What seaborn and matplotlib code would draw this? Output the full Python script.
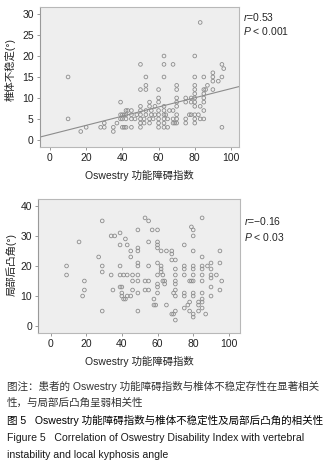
import numpy as np
import pandas as pd
import matplotlib
matplotlib.use('Agg')
import matplotlib.pyplot as plt
import seaborn as sns

sns.set_style("ticks")
plt.rcParams['font.family'] = ['Liberation Sans', 'Noto Sans CJK SC', 'DejaVu Sans']
plt.rcParams['axes.unicode_minus'] = False
plt.rcParams['mathtext.fontset'] = 'custom'
plt.rcParams['mathtext.it'] = 'Liberation Sans:italic'

# top panel: Oswestry index vs vertebral instability, grouped by instability value
inst_rows = {
	28: [83],
	20: [63, 80],
	18: [50, 63, 68, 95],
	17: [96],
	16: [90],
	15: [10, 53, 63, 80, 85, 90, 95],
	14: [90, 93],
	13: [53, 70, 80, 87],
	12: [50, 53, 60, 70, 80, 85, 86, 90],
	11: [80, 85],
	10: [60, 70, 75, 78, 80, 85],
	9: [39, 55, 60, 70, 75, 78, 80, 85],
	8: [50, 55, 58, 63, 70, 80, 83],
	7: [42, 43, 45, 50, 53, 56, 60, 63, 66, 68, 85],
	6: [39, 40, 41, 42, 45, 48, 50, 53, 56, 58, 60, 63, 64, 70, 77, 78, 80, 82],
	5: [10, 39, 40, 42, 45, 47, 50, 52, 55, 57, 60, 63, 65, 68, 70, 75, 80, 83, 85],
	4: [30, 37, 50, 52, 55, 60, 63, 68, 69, 70, 75, 80],
	3: [20, 28, 30, 35, 40, 41, 42, 45, 50, 60, 63, 65, 95],
	2: [17, 35],
}

# bottom panel: Oswestry index vs local kyphosis angle
kyph_rows = {
	36: [53, 85],
	35: [29, 55],
	33: [79],
	32: [49, 57, 60, 80],
	31: [39],
	30: [34, 36, 80],
	29: [42],
	28: [16, 55, 60],
	27: [39, 43, 60, 75],
	26: [49, 60],
	25: [45, 49, 62, 65, 68, 80, 95],
	24: [68],
	23: [27, 45, 85],
	22: [68, 70],
	21: [49, 60, 90, 95],
	20: [9, 29, 39, 49, 55, 62, 75, 80, 85, 88],
	19: [62, 70, 75, 80, 85, 90],
	18: [29, 62],
	17: [9, 34, 39, 41, 43, 46, 49, 60, 63, 70, 75, 80, 85, 90, 93],
	16: [90],
	15: [19, 46, 49, 53, 55, 63, 64, 70, 78, 79, 80, 85, 96],
	14: [60, 64, 70],
	13: [39, 40, 60, 90],
	12: [19, 35, 46, 53, 55, 70, 95],
	11: [40, 49, 60, 69, 75, 80, 85],
	10: [18, 40, 43, 45, 70, 75, 80, 90],
	9: [41, 42, 58, 85],
	8: [78, 83, 85],
	7: [58, 59, 65, 77, 83],
	6: [75, 85],
	5: [29, 49, 70, 78, 83],
	4: [68, 69, 80, 87],
	3: [80],
	2: [70],
}

def to_frame(rows, name):
	xs, ys = [], []
	for yv, xl in rows.items():
		xs += xl
		ys += [yv] * len(xl)
	return pd.DataFrame({'odi': xs, name: ys})

top = to_frame(inst_rows, 'inst')
bot = to_frame(kyph_rows, 'kyph')

bg = '#eeeeee'
pt = '#8c8c8c'
fs = 7.5

fig = plt.figure(figsize=(3.28, 4.63), dpi=100)
ax1 = fig.add_axes([0.122, 0.6825, 0.607, 0.3025])
ax2 = fig.add_axes([0.117, 0.2808, 0.615, 0.2888])

def style(ax, xlim, ylim, yticks):
	ax.set_facecolor(bg)
	ax.set_xlim(*xlim)
	ax.set_ylim(*ylim)
	ax.set_xticks([0, 20, 40, 60, 80, 100])
	ax.set_yticks(yticks)
	for s in ax.spines.values():
		s.set_color('#b8b8b8')
		s.set_linewidth(0.8)
	ax.spines['left'].set_color('#999999')
	ax.tick_params(length=2.5, width=0.6, color='#888888', labelsize=fs, pad=2, labelcolor='#222222')
	ax.set_xlabel('Oswestry 功能障碍指数', fontsize=fs, labelpad=5, color='#222222')

sns.scatterplot(data=top, x='odi', y='inst', ax=ax1, marker='o', s=7,
	facecolor='none', edgecolor=pt, linewidth=0.6)
ax1.set_xlim(-5.5, 104.5)
sns.regplot(data=top, x='odi', y='inst', ax=ax1, scatter=False, ci=None, truncate=False,
	line_kws={'color': '#8c8c8c', 'lw': 0.8})
style(ax1, (-5.5, 104.5), (-1.7, 31.7), [0, 5, 10, 15, 20, 25, 30])
ax1.set_ylabel('椎体不稳定(°)', fontsize=fs, color='#222222')
ax1.yaxis.set_label_coords(-0.12, 0.55)
ax1.text(1.02, 0.925, '$r$=0.53', transform=ax1.transAxes, fontsize=fs, va='center')
ax1.text(1.02, 0.83, '$P$ < 0.001', transform=ax1.transAxes, fontsize=fs, va='center')

sns.scatterplot(data=bot, x='odi', y='kyph', ax=ax2, marker='o', s=7,
	facecolor='none', edgecolor=pt, linewidth=0.6)
style(ax2, (-6.8, 106.3), (-2.3, 42.2), [0, 10, 20, 30, 40])
ax2.set_ylabel('局部后凸角(°)', fontsize=fs, color='#222222')
ax2.yaxis.set_label_coords(-0.108, 0.51)
ax2.text(1.02, 0.835, '$r$=−0.16', transform=ax2.transAxes, fontsize=fs, va='center')
ax2.text(1.02, 0.72, '$P$ < 0.03', transform=ax2.transAxes, fontsize=fs, va='center')

caption = [
	('图注：患者的 Oswestry 功能障碍指数与椎体不稳定存性在显著相关', '#333333'),
	('性，与局部后凸角呈弱相关性', '#333333'),
	('图 5   Oswestry 功能障碍指数与椎体不稳定性及局部后凸角的相关性', '#000000'),
	('Figure 5   Correlation of Oswestry Disability Index with vertebral', '#1a1a1a'),
	('instability and local kyphosis angle', '#1a1a1a'),
]
for i, (line, c) in enumerate(caption):
	y = 386 + i * 17.3
	fig.text(7 / 328, 1 - y / 463, line, fontsize=7.6, va='center', ha='left', color=c)

fig.savefig('out.png', dpi=100)
